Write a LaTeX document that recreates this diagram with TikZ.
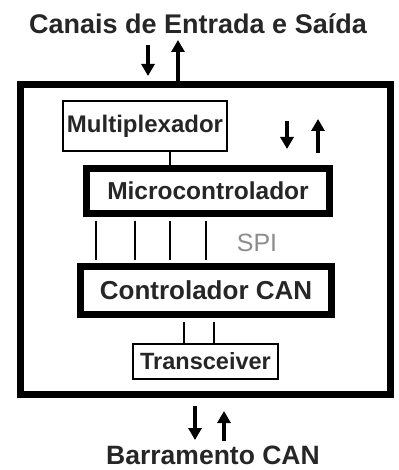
\documentclass[tikz,border=0pt]{standalone}
\usepackage{fontspec}
\setmainfont{Liberation Sans}
\usetikzlibrary{arrows.meta}
\tikzset{
  lbl/.style={font=\bfseries, inner sep=0pt, text=black!85},
  thinbox/.style={draw, line width=2pt, inner sep=0pt, fill=white},
  thickbox/.style={draw, line width=7pt, inner sep=0pt, fill=white},
  wire/.style={line width=2pt},
  flow/.style={line width=3.4pt, -{Triangle[length=12pt,width=13pt]}},
}
\begin{document}
\begin{tikzpicture}[x=1pt,y=-1pt]
  \useasboundingbox (0,0) rectangle (398,470);
  \fill[white] (0,0) rectangle (398,470);

  % module enclosure
  \node[draw, line width=7pt, minimum width=370pt, minimum height=309pt, inner sep=0pt]
    (board) at (205.5,239.5) {};

  \node[lbl, font=\bfseries\fontsize{27}{27}\selectfont] (io) at (198,24) {Canais de Entrada e Saída};
  \node[lbl, font=\bfseries\fontsize{26.5}{26.5}\selectfont] (bus) at (213,455) {Barramento CAN};

  % blocks
  \node[thinbox, minimum width=164pt, minimum height=50pt] (mux) at (145,126) {};
  \node[lbl, font=\bfseries\fontsize{24}{24}\selectfont] at (mux) {Multiplexador};
  \node[thickbox, minimum width=243pt, minimum height=45pt] (mcu) at (208,191) {};
  \node[lbl, font=\bfseries\fontsize{24.5}{24.5}\selectfont] at (mcu) {Microcontrolador};
  \node[thickbox, minimum width=251pt, minimum height=48pt] (can) at (206,290.5) {};
  \node[lbl, font=\bfseries\fontsize{26}{26}\selectfont] at (can) {Controlador CAN};
  \node[thinbox, minimum width=145pt, minimum height=35pt] (trx) at (205.5,361.5) {};
  \node[lbl, font=\bfseries\fontsize{23.5}{23.5}\selectfont] at (trx) {Transceiver};

  \node[inner sep=0pt, text=black!45, font=\fontsize{25}{25}\selectfont] (spi) at (257,243) {SPI};

  % wiring between blocks
  \draw[wire] ([xshift=25pt]mux.south) -- ([xshift=25pt]mux.south |- mcu.north);
  \foreach \dx in {-112,-73,-38,-2}
    \draw[wire] ([xshift=\dx pt,yshift=-3.5pt]mcu.south) -- ([xshift=\dx pt,yshift=3.5pt]mcu.south |- can.north);
  \foreach \dx in {-22.5,7.5}
    \draw[wire] ([xshift=\dx pt,yshift=-3.5pt]can.south) -- ([xshift=\dx pt]can.south |- trx.north);

  % signal directions
  \coordinate (inA) at (148,45);
  \coordinate (inB) at (148,76);
  \coordinate (outA) at (178,84);
  \coordinate (outB) at (178,40);
  \draw[flow] (inA) -- (inB);
  \draw[flow] (outA) -- (outB);

  \coordinate (rA) at (287,121);
  \coordinate (rB) at (287,149);
  \coordinate (rC) at (318,153);
  \coordinate (rD) at (318,119);
  \draw[flow] (rA) -- (rB);
  \draw[flow] (rC) -- (rD);

  \coordinate (bA) at (195,406);
  \coordinate (bB) at (195,440);
  \coordinate (bC) at (224,441);
  \coordinate (bD) at (224,411);
  \draw[flow] (bA) -- (bB);
  \draw[flow] (bC) -- (bD);
\end{tikzpicture}
\end{document}
